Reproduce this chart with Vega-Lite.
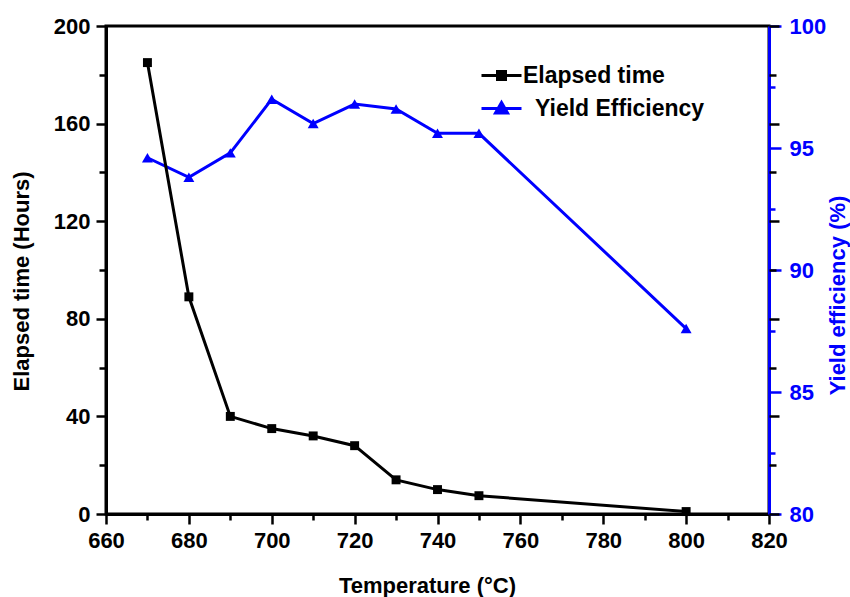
{
  "$schema": "https://vega.github.io/schema/vega-lite/v6.json",
  "width": 663,
  "height": 488,
  "autosize": "none",
  "padding": {"left": 106, "top": 26, "right": 81, "bottom": 83},
  "config": {
    "font": "Liberation Sans",
    "view": {"stroke": "black", "strokeWidth": 3},
    "axis": {
      "grid": false,
      "labelFont": "Liberation Sans",
      "labelFontWeight": "bold",
      "labelFontSize": 22,
      "labelColor": "black",
      "titleFont": "Liberation Sans",
      "titleFontWeight": "bold",
      "titleFontSize": 22,
      "titleColor": "black",
      "domainColor": "black",
      "domainWidth": 3,
      "tickColor": "black",
      "tickWidth": 2.5
    }
  },
  "data": {
    "values": [
      {"T": 670, "time": 185, "yield": 94.6},
      {"T": 680, "time": 89, "yield": 93.8},
      {"T": 690, "time": 40, "yield": 94.8},
      {"T": 700, "time": 35, "yield": 97.0},
      {"T": 710, "time": 32, "yield": 96.0},
      {"T": 720, "time": 28, "yield": 96.8},
      {"T": 730, "time": 14, "yield": 96.6},
      {"T": 740, "time": 10, "yield": 95.6},
      {"T": 750, "time": 7.5, "yield": 95.6},
      {"T": 800, "time": 1, "yield": 87.6}
    ]
  },
  "encoding": {
    "x": {
      "field": "T",
      "type": "quantitative",
      "scale": {"domain": [660, 820], "nice": false, "zero": false},
      "axis": {
        "title": "Temperature (°C)",
        "values": [660, 670, 680, 690, 700, 710, 720, 730, 740, 750, 760, 770, 780, 790, 800, 810, 820],
        "labelExpr": "datum.value % 20 === 0 ? datum.label : ''",
        "tickSize": {"condition": {"test": "datum.value % 20 === 0", "value": 10}, "value": 6},
        "labelPadding": 6,
        "titleX": 321,
        "titleY": 78,
        "titleAnchor": "middle",
        "titleAlign": "center",
        "titleBaseline": "alphabetic",
        "labelFlush": false,
        "labelOverlap": false
      }
    }
  },
  "layer": [
    {
      "mark": {"type": "line", "strokeWidth": 3, "point": {"shape": "triangle-up", "size": 120, "filled": true, "opacity": 1}},
      "encoding": {
        "y": {
          "field": "yield",
          "type": "quantitative",
          "scale": {"domain": [80, 100], "nice": false, "zero": false},
          "axis": {
            "orient": "right",
            "title": "Yield efficiency (%)",
            "titleAngle": 270,
            "titleBaseline": "top",
            "titleAlign": "center",
            "titleX": 58,
            "titleY": 269,
            "titleColor": "#0000FF",
            "labelColor": "#0000FF",
            "domainColor": "#0000FF",
            "tickColor": "#0000FF",
            "values": [80, 82.5, 85, 87.5, 90, 92.5, 95, 97.5, 100],
            "labelExpr": "datum.value % 5 === 0 ? datum.label : ''",
            "tickSize": {"condition": {"test": "datum.value % 5 === 0", "value": 12}, "value": 6},
            "labelPadding": 8,
            "labelFlush": false,
            "labelOverlap": false
          }
        },
        "color": {"datum": "Yield Efficiency"}
      }
    },
    {
      "mark": {"type": "line", "strokeOpacity": 0},
      "encoding": {
        "y": {
          "field": "time",
          "type": "quantitative",
          "scale": {"domain": [0, 200], "nice": false},
          "axis": {
            "orient": "right",
            "title": null,
            "labels": false,
            "domain": false,
            "values": [0, 20, 40, 60, 80, 100, 120, 140, 160, 180, 200],
            "tickSize": {"condition": {"test": "datum.value % 40 === 0", "value": 10}, "value": 7}
          }
        }
      }
    },
    {
      "mark": {"type": "line", "strokeWidth": 3, "point": {"shape": "square", "size": 80, "filled": true, "opacity": 1}},
      "encoding": {
        "y": {
          "field": "time",
          "type": "quantitative",
          "scale": {"domain": [0, 200], "nice": false},
          "axis": {
            "orient": "left",
            "title": "Elapsed time (Hours)",
            "titleAngle": 270,
            "titleAlign": "center",
            "titleBaseline": "alphabetic",
            "titleX": -78,
            "titleY": 255,
            "values": [0, 20, 40, 60, 80, 100, 120, 140, 160, 180, 200],
            "labelExpr": "datum.value % 40 === 0 ? datum.label : ''",
            "tickSize": {"condition": {"test": "datum.value % 40 === 0", "value": 10}, "value": 7},
            "labelPadding": 6,
            "labelFlush": false,
            "labelOverlap": false
          }
        },
        "color": {
          "datum": "Elapsed time",
          "scale": {"domain": ["Elapsed time", "Yield Efficiency"], "range": ["black", "#0000FF"]},
          "legend": {
            "orient": "none",
            "legendX": 384,
            "legendY": 38,
            "title": null,
            "padding": 0,
            "labelFont": "Liberation Sans",
            "labelFontSize": 23,
            "labelFontWeight": "bold",
            "labelColor": "black",
            "labelOffset": 10,
            "labelLimit": 400,
            "rowPadding": 8,
            "symbolSize": 400,
            "symbolStrokeWidth": 3,
            "encode": {
              "labels": {
                "update": {
                  "dx": {"signal": "datum.value === 'Yield Efficiency' ? 12 : 0"}
                }
              },
              "symbols": {
                "update": {
                  "shape": {"signal": "datum.value === 'Elapsed time' ? 'M-2,0H2M-0.4,-0.4H0.4V0.4H-0.4Z' : 'M-2,0H2M0,-0.6L0.6,0.45H-0.6Z'"},
                  "fill": {"signal": "datum.value === 'Elapsed time' ? 'black' : '#0000FF'"},
                  "stroke": {"signal": "datum.value === 'Elapsed time' ? 'black' : '#0000FF'"},
                  "strokeWidth": {"value": 3},
                  "opacity": {"value": 1}
                }
              }
            }
          }
        }
      }
    }
  ],
  "resolve": {"scale": {"y": "independent"}, "axis": {"y": "independent"}}
}
